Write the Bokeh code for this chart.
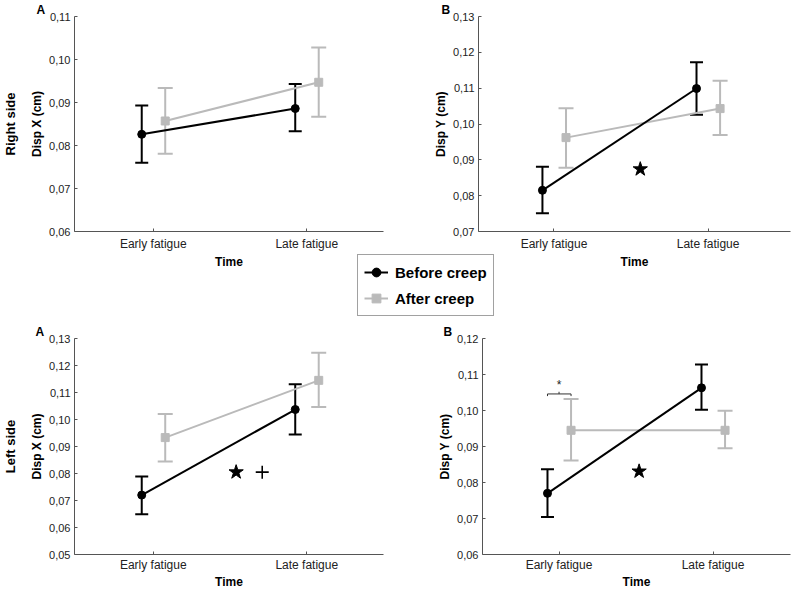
from bokeh.plotting import figure
from bokeh.layouts import column, row
from bokeh.models import (ColumnDataSource, Range1d, FixedTicker, CustomJSTickFormatter,
                          Whisker, TeeHead, Title, Legend, LegendItem)
from bokeh.transform import dodge
from bokeh.embed import file_html
from bokeh.resources import INLINE
from bokeh.core.properties import value

# ---------------- data ----------------
times = ["Early fatigue", "Late fatigue"]
series_names = ["Before creep", "After creep"]
sides = ["Right side", "Left side"]

# Right side, A: Disp X (cm)
ra_before_mean = [0.0826, 0.0886]
ra_before_lo = [0.0760, 0.0833]
ra_before_hi = [0.0893, 0.0943]
ra_after_mean = [0.0857, 0.0947]
ra_after_lo = [0.0781, 0.0867]
ra_after_hi = [0.0934, 0.1028]
ra_yticks = [0.06, 0.07, 0.08, 0.09, 0.10, 0.11]
ra_ylabels = ["0,06", "0,07", "0,08", "0,09", "0,10", "0,11"]

# Right side, B: Disp Y (cm)
rb_before_mean = [0.0815, 0.1099]
rb_before_lo = [0.0751, 0.1026]
rb_before_hi = [0.0881, 0.1172]
rb_after_mean = [0.0962, 0.1043]
rb_after_lo = [0.0878, 0.0969]
rb_after_hi = [0.1044, 0.1121]
rb_yticks = [0.07, 0.08, 0.09, 0.10, 0.11, 0.12, 0.13]
rb_ylabels = ["0,07", "0,08", "0,09", "0,10", "0,11", "0,12", "0,13"]
rb_star = [(0.56, 0.0874)]

# Left side, A: Disp X (cm)
la_before_mean = [0.0720, 0.1037]
la_before_lo = [0.0649, 0.0944]
la_before_hi = [0.0789, 0.1131]
la_after_mean = [0.0933, 0.1145]
la_after_lo = [0.0844, 0.1046]
la_after_hi = [0.1020, 0.1247]
la_yticks = [0.05, 0.06, 0.07, 0.08, 0.09, 0.10, 0.11, 0.12, 0.13]
la_ylabels = ["0,05", "0,06", "0,07", "0,08", "0,09", "0,10", "0,11", "0,12", "0,13"]
la_star = [(0.54, 0.0805)]
la_cross = [(0.71, 0.0805)]

# Left side, B: Disp Y (cm)
lb_before_mean = [0.0770, 0.1063]
lb_before_lo = [0.0704, 0.1002]
lb_before_hi = [0.0837, 0.1128]
lb_after_mean = [0.0945, 0.0945]
lb_after_lo = [0.0861, 0.0895]
lb_after_hi = [0.1032, 0.0999]
lb_yticks = [0.06, 0.07, 0.08, 0.09, 0.10, 0.11, 0.12]
lb_ylabels = ["0,06", "0,07", "0,08", "0,09", "0,10", "0,11", "0,12"]
lb_star = [(0.52, 0.0831)]
lb_bracket_time = 0          # Early fatigue
lb_bracket_y = 0.1046
lb_asterisk_y = 0.1072

# ---------------- style / layout ----------------
TOTAL_W, TOTAL_H = 792, 591
FONT = "Liberation Sans"
BLACK = "#000000"
GRAY = "#bababa"
AXIS = "#555555"
OFF_B = -0.075
OFF_A = 0.078

SIDE_W = 22
W_L = 396
W_R = TOTAL_W - W_L
H_T = 285
H_B = TOTAL_H - H_T


def blank_fig(width, height, top=0, bottom=0):
    f = figure(width=width, height=height, x_range=Range1d(0, 1), y_range=Range1d(0, 1),
               output_backend="svg", toolbar_location=None,
               min_border_left=0, min_border_right=0, min_border_top=top, min_border_bottom=bottom,
               x_axis_type=None, y_axis_type=None)
    f.outline_line_color = None
    f.background_fill_color = None
    f.border_fill_color = None
    f.grid.visible = False
    f.title.visible = False
    return f


def make_side(text, height, top, bottom):
    s = blank_fig(SIDE_W, height, top, bottom)
    s.add_layout(Title(text=text, text_font=FONT, text_font_size="13px",
                       text_font_style="bold", text_color="#000000",
                       align="center", standoff=0), "left")
    return s


def make_panel(width, height, left, right, top, bottom, xr, yr, yticks, ylabels,
               ylabel, letter, letter_dx, x_std=(5, 1)):
    p = figure(width=width, height=height, x_range=Range1d(*xr), y_range=Range1d(*yr),
               output_backend="svg", toolbar_location=None,
               min_border_left=left, min_border_right=right,
               min_border_top=top, min_border_bottom=bottom)
    p.outline_line_color = None
    p.grid.visible = False
    p.border_fill_color = None
    p.background_fill_color = "white"

    p.title.text = letter
    p.title.align = "left"
    p.title.offset = letter_dx
    p.title.standoff = 0
    p.title.text_font = FONT
    p.title.text_font_size = "12px"
    p.title.text_font_style = "bold"
    p.title.text_color = "#000000"

    for ax in (p.xaxis[0], p.yaxis[0]):
        ax.axis_line_color = AXIS
        ax.axis_line_width = 1
        ax.major_tick_line_color = AXIS
        ax.major_tick_in = 3
        ax.major_tick_out = 0
        ax.minor_tick_line_color = None
        ax.major_label_text_font = FONT
        ax.major_label_text_color = "#222222"
        ax.axis_label_text_font = FONT
        ax.axis_label_text_font_size = "12px"
        ax.axis_label_text_font_style = "bold"
        ax.axis_label_text_color = "#000000"

    p.xaxis.ticker = FixedTicker(ticks=list(range(len(times))))
    p.xaxis.formatter = CustomJSTickFormatter(args=dict(cats=times), code="""
        const i = Math.round(tick);
        return (i >= 0 && i < cats.length) ? cats[i] : "";
    """)
    p.xaxis.axis_label = "Time"
    p.xaxis.major_label_text_font_size = "12px"
    p.xaxis.major_label_standoff = x_std[0]
    p.xaxis.axis_label_standoff = x_std[1]

    p.yaxis.ticker = FixedTicker(ticks=yticks)
    p.yaxis.formatter = CustomJSTickFormatter(args=dict(yt=yticks, yl=ylabels), code="""
        for (let i = 0; i < yt.length; i++) {
            if (Math.abs(yt[i] - tick) < 1e-9) return yl[i];
        }
        return "";
    """)
    p.yaxis.axis_label = ylabel
    p.yaxis.major_label_text_font_size = "11px"
    p.yaxis.major_label_standoff = 4
    p.yaxis.axis_label_standoff = 2
    return p


def add_series(p, mean, lo, hi, color, marker, offset, cap):
    src = ColumnDataSource(dict(t=list(range(len(times))), m=mean, lo=lo, hi=hi))
    p.add_layout(Whisker(source=src, base=dodge("t", offset), lower="lo", upper="hi",
                         dimension="height", line_color=color, line_width=2,
                         lower_head=TeeHead(size=cap, line_color=color, line_width=2),
                         upper_head=TeeHead(size=cap, line_color=color, line_width=2)))
    p.line(x=dodge("t", offset), y="m", source=src, line_color=color, line_width=2)
    p.scatter(x=dodge("t", offset), y="m", source=src, marker=marker, size=8,
              fill_color=color, line_color=color)


def add_panel_data(p, bm, bl, bh, am, al, ah):
    add_series(p, am, al, ah, GRAY, "square", OFF_A, 15)
    add_series(p, bm, bl, bh, BLACK, "circle", OFF_B, 13)


def add_marks(p, pts, marker, size, lw=1):
    p.scatter(x=[q[0] for q in pts], y=[q[1] for q in pts], marker=marker, size=size,
              fill_color=BLACK, line_color=BLACK, line_width=lw)


# side labels
s1 = make_side(sides[0], H_T, 12, H_T - 12 - 219)
s3 = make_side(sides[1], H_B, 51, H_B - 51 - 221)

# top-left: Right side A
p1 = make_panel(W_L - SIDE_W, H_T, 74 - SIDE_W, 13, 12, H_T - 12 - 219,
                (-0.513, 1.50), (0.06, 0.11), ra_yticks, ra_ylabels,
                "Disp X (cm)", "A", -38)
add_panel_data(p1, ra_before_mean, ra_before_lo, ra_before_hi,
               ra_after_mean, ra_after_lo, ra_after_hi)

# top-right: Right side B
p2 = make_panel(W_R, H_T, 82, 2, 12, H_T - 12 - 219,
                (-0.49, 1.535), (0.07, 0.13), rb_yticks, rb_ylabels,
                "Disp Y (cm)", "B", -37)
add_panel_data(p2, rb_before_mean, rb_before_lo, rb_before_hi,
               rb_after_mean, rb_after_lo, rb_after_hi)
add_marks(p2, rb_star, "star", 15)

# bottom-left: Left side A
p3 = make_panel(W_L - SIDE_W, H_B, 74 - SIDE_W, 13, 51, H_B - 51 - 221,
                (-0.513, 1.50), (0.05, 0.13), la_yticks, la_ylabels,
                "Disp X (cm)", "A", -39, x_std=(3, 0))
add_panel_data(p3, la_before_mean, la_before_lo, la_before_hi,
               la_after_mean, la_after_lo, la_after_hi)
add_marks(p3, la_star, "star", 15)
add_marks(p3, la_cross, "cross", 13, lw=1.6)

# bottom-right: Left side B
p4 = make_panel(W_R, H_B, 86, 2, 53, H_B - 53 - 219,
                (-0.497, 1.503), (0.06, 0.12), lb_yticks, lb_ylabels,
                "Disp Y (cm)", "B", -39, x_std=(3, 0))
add_panel_data(p4, lb_before_mean, lb_before_lo, lb_before_hi,
               lb_after_mean, lb_after_lo, lb_after_hi)
add_marks(p4, lb_star, "star", 15)
bx0 = lb_bracket_time + OFF_B
bx1 = lb_bracket_time + OFF_A
bxc = lb_bracket_time
tick_h = 0.0006
p4.multi_line(xs=[[bx0, bx1], [bx0, bx0], [bx1, bx1], [bxc, bxc]],
              ys=[[lb_bracket_y, lb_bracket_y], [lb_bracket_y, lb_bracket_y - tick_h],
                  [lb_bracket_y, lb_bracket_y - tick_h], [lb_bracket_y, lb_bracket_y + tick_h]],
              line_color="#333333", line_width=1)
p4.text(x=[bxc], y=[lb_asterisk_y], text=["*"], text_font=value(FONT), text_font_size="12px",
        text_align="center", text_baseline="middle", text_color="#222222")

# legend overlay
LW, LH = 170, 70
lf = blank_fig(LW, LH)
nan = float("nan")
key_b = ColumnDataSource(dict(x=[nan], y=[nan]))
key_a = ColumnDataSource(dict(x=[nan], y=[nan]))
lb1 = lf.line("x", "y", source=key_b, line_color=BLACK, line_width=2)
lb2 = lf.scatter("x", "y", source=key_b, marker="circle", size=8, fill_color=BLACK, line_color=BLACK)
la1 = lf.line("x", "y", source=key_a, line_color=GRAY, line_width=2)
la2 = lf.scatter("x", "y", source=key_a, marker="square", size=8, fill_color=GRAY, line_color=GRAY)
legend = Legend(items=[LegendItem(label=series_names[0], renderers=[lb1, lb2]),
                       LegendItem(label=series_names[1], renderers=[la1, la2])],
                location="top_left", margin=0, padding=6, spacing=4,
                glyph_width=24, glyph_height=22, label_standoff=7,
                label_text_font=FONT, label_text_font_size="15px", label_text_font_style="bold",
                label_text_color="#000000", border_line_color="#444444", border_line_width=1,
                background_fill_color="white", background_fill_alpha=1.0)
lf.add_layout(legend, "center")
leg_top = 254
lf.margin = (leg_top - TOTAL_H, 0, TOTAL_H - leg_top - LH, 357)

layout = column(row(s1, p1, p2), row(s3, p3, p4), lf)

with open("out.html", "w") as f:
    f.write(file_html(layout, INLINE))
